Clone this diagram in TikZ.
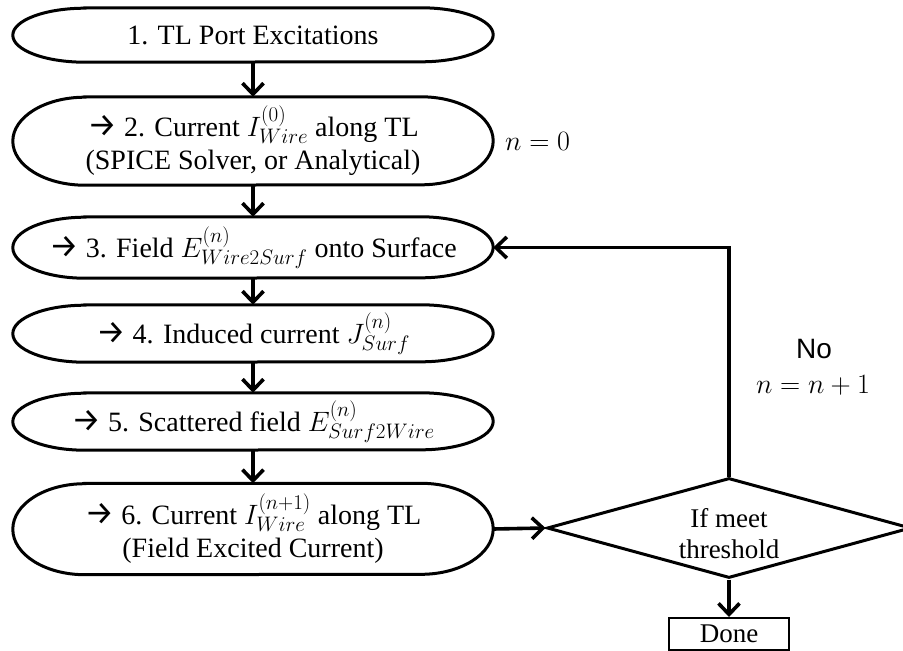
\RequirePackage{fix-cm}
\documentclass[tikz,border=0pt]{standalone}
\usepackage{fontspec}
\setmainfont{Liberation Serif}
\newfontfamily\nofont{Liberation Sans}
\newfontfamily\arrfont{Fira Sans}
\DeclareMathSizes{28}{28}{21}{16}
\usetikzlibrary{arrows.meta,shapes.geometric}
\newcommand\ra{{\fontsize{33}{32}\selectfont\arrfont →}}
\newcommand\stadium[3]{%
  \draw[stadline] ([xshift=#2]#1.north west) -- ([xshift=-#2]#1.north east)
    arc[start angle=90,end angle=-90,x radius=#2,y radius=#3]
    -- ([xshift=#2]#1.south west)
    arc[start angle=270,end angle=90,x radius=#2,y radius=#3] -- cycle;}
\tikzset{
  stadbox/.style={minimum width=480, inner sep=0pt, align=center,
    font=\fontsize{28}{32}\selectfont},
  stadline/.style={line width=3pt},
  conn/.style={line width=3.6pt, -{Straight Barb[length=11pt,width=21pt]}},
  decbox/.style={shape=diamond, draw, line width=3pt, aspect=3.64,
    minimum width=364, minimum height=100, inner sep=0pt},
  dectext/.style={align=center, inner sep=0pt, font=\fontsize{27}{31}\selectfont},
  donebox/.style={draw, line width=2pt, minimum width=120, minimum height=32,
    inner sep=0pt, font=\fontsize{27}{30}\selectfont},
  lbl/.style={font=\fontsize{28}{34}\selectfont, inner sep=0pt, align=center}
}
\begin{document}
\begin{tikzpicture}[x=1pt,y=1pt]
\useasboundingbox (0,0) rectangle (903,-651);
\node[stadbox, minimum height=54] (n1) at (253,-35) {1. TL Port Excitations};
\node[stadbox, minimum height=88] (n2) at (253,-141) {\ra\ 2. Current $I^{(0)}_{Wire}$ along TL\\[1pt](SPICE Solver, or Analytical)};
\node[stadbox, minimum height=61] (n3) at (253,-247.5) {\ra\ 3. Field $E^{(n)}_{Wire2Surf}$ onto Surface};
\node[stadbox, minimum height=57] (n4) at (253,-333.5) {\ra\ 4. Induced current $J^{(n)}_{Surf}$};
\node[stadbox, minimum height=57] (n5) at (253,-421.5) {\ra\ 5. Scattered field $E^{(n)}_{Surf2Wire}$};
\node[stadbox, minimum height=91] (n6) at (253,-529) {\ra\ 6. Current $I^{(n+1)}_{Wire}$ along TL\\[1pt](Field Excited Current)};
\stadium{n1}{72}{27}
\stadium{n2}{72}{44}
\stadium{n3}{72}{30.5}
\stadium{n4}{72}{28.5}
\stadium{n5}{72}{28.5}
\stadium{n6}{72}{45.5}
\node[decbox] (dec) at (729,-528) {};
\node[dectext] (dect) at (729,-534) {If meet\\threshold};
\node[donebox] (done) at (729,-634) {Done};
\node[lbl, anchor=west] (n0) at (505,-141) {$n=0$};
\node[lbl] (no) at (814,-349) {\nofont No};
\node[lbl] (nn) at (813,-385) {$n=n+1$};
\draw[conn] (n1) -- (n2);
\draw[conn] (n2) -- (n3);
\draw[conn] (n3) -- (n4);
\draw[conn] (n4) -- (n5);
\draw[conn] (n5) -- (n6);
\draw[conn] (n6.east) -- (dec.west);
\draw[conn] (dec.south) -- (done.north);
\draw[conn] (dec.north) |- (n3.east);
\end{tikzpicture}
\end{document}
